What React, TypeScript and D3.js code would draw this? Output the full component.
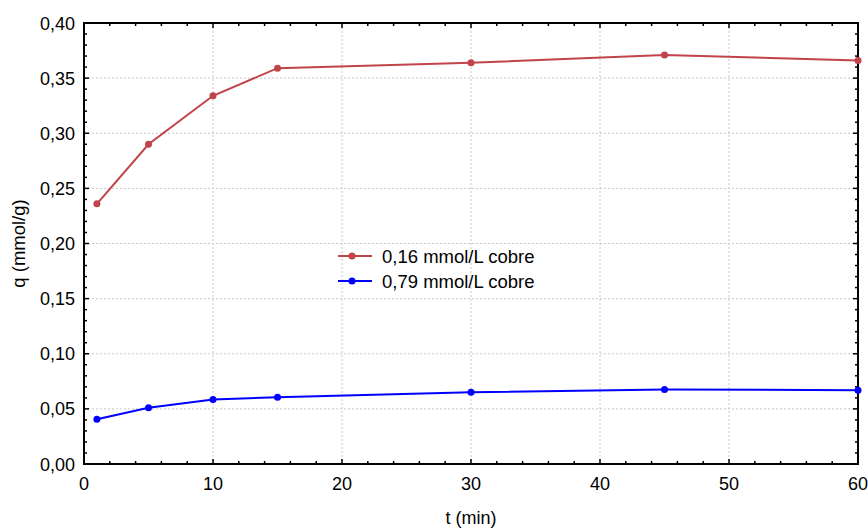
import React from "react";
import * as d3 from "d3";

const times = [1, 5, 10, 15, 30, 45, 60];
const seriesRed = [0.236, 0.290, 0.334, 0.359, 0.364, 0.371, 0.366];
const seriesBlue = [0.0405, 0.051, 0.0585, 0.0605, 0.065, 0.0675, 0.067];
const seriesNames = ["0,16 mmol/L cobre", "0,79 mmol/L cobre"];
const xTicks = [0, 10, 20, 30, 40, 50, 60];
const yTicks = [0, 0.05, 0.1, 0.15, 0.2, 0.25, 0.3, 0.35, 0.4];

const W = 868, H = 528;
const L = 84, R = 858, T = 23, B = 464;
const FONT = "'Liberation Sans', Arial, sans-serif";

export default function App() {
  const x = d3.scaleLinear().domain([0, 60]).range([L, R]);
  const y = d3.scaleLinear().domain([0, 0.4]).range([B, T]);
  const line = d3.line<number>().x((_, i) => x(times[i])).y((d) => y(d));
  const xMinor = d3.range(0, 60.001, 2);
  const yMinor = d3.range(0, 0.4001, 0.01);
  const fmt = (v: number) => v.toFixed(2).replace(".", ",");
  const series = [
    { data: seriesRed, color: "#c0444a", name: seriesNames[0] },
    { data: seriesBlue, color: "#0000ff", name: seriesNames[1] },
  ];
  return (
    <svg width={W} height={H} style={{ position: "absolute", left: 0, top: 0 }} fontFamily={FONT}>
      <rect width={W} height={H} fill="#fff" />
      {xTicks.slice(1, -1).map((t) => (
        <line key={"gx" + t} x1={x(t)} x2={x(t)} y1={T} y2={B} stroke="#c8c8c8" strokeDasharray="2,2" />
      ))}
      {yTicks.slice(1, -1).map((t) => (
        <line key={"gy" + t} x1={L} x2={R} y1={y(t)} y2={y(t)} stroke="#c8c8c8" strokeDasharray="2,2" />
      ))}
      {xMinor.map((t, i) => {
        const len = i % 5 === 0 ? 5 : 3;
        return (
          <g key={"xt" + i} stroke="#000" strokeWidth={1.5}>
            <line x1={x(t)} x2={x(t)} y1={B} y2={B - len} />
            <line x1={x(t)} x2={x(t)} y1={T} y2={T + len} />
          </g>
        );
      })}
      {yMinor.map((t, i) => {
        const len = i % 5 === 0 ? 5 : 3;
        return (
          <g key={"yt" + i} stroke="#000" strokeWidth={1.5}>
            <line x1={L} x2={L + len} y1={y(t)} y2={y(t)} />
            <line x1={R} x2={R - len} y1={y(t)} y2={y(t)} />
          </g>
        );
      })}
      <rect x={L} y={T} width={R - L} height={B - T} fill="none" stroke="#000" strokeWidth={2} />
      {xTicks.map((t) => (
        <text key={"xl" + t} x={x(t)} y={B + 26} textAnchor="middle" fontSize={18}>{t}</text>
      ))}
      {yTicks.map((t) => (
        <text key={"yl" + t} x={L - 9} y={y(t) + 6.5} textAnchor="end" fontSize={18}>{fmt(t)}</text>
      ))}
      <text x={(L + R) / 2} y={524} textAnchor="middle" fontSize={18}>t (min)</text>
      <text transform={`translate(25,${(T + B) / 2}) rotate(-90)`} textAnchor="middle" fontSize={18.5}>q (mmol/g)</text>
      {series.map((s) => (
        <g key={s.name}>
          <path d={line(s.data) || ""} fill="none" stroke={s.color} strokeWidth={2} />
          {s.data.map((d, i) => (
            <circle key={i} cx={x(times[i])} cy={y(d)} r={3.5} fill={s.color} />
          ))}
        </g>
      ))}
      {series.map((s, i) => {
        const ly = 256 + i * 25;
        return (
          <g key={"lg" + i}>
            <line x1={338} x2={372} y1={ly} y2={ly} stroke={s.color} strokeWidth={2} />
            <circle cx={352} cy={ly} r={3.5} fill={s.color} />
            <text x={382} y={ly + 6.5} fontSize={18.5}>{s.name}</text>
          </g>
        );
      })}
    </svg>
  );
}
